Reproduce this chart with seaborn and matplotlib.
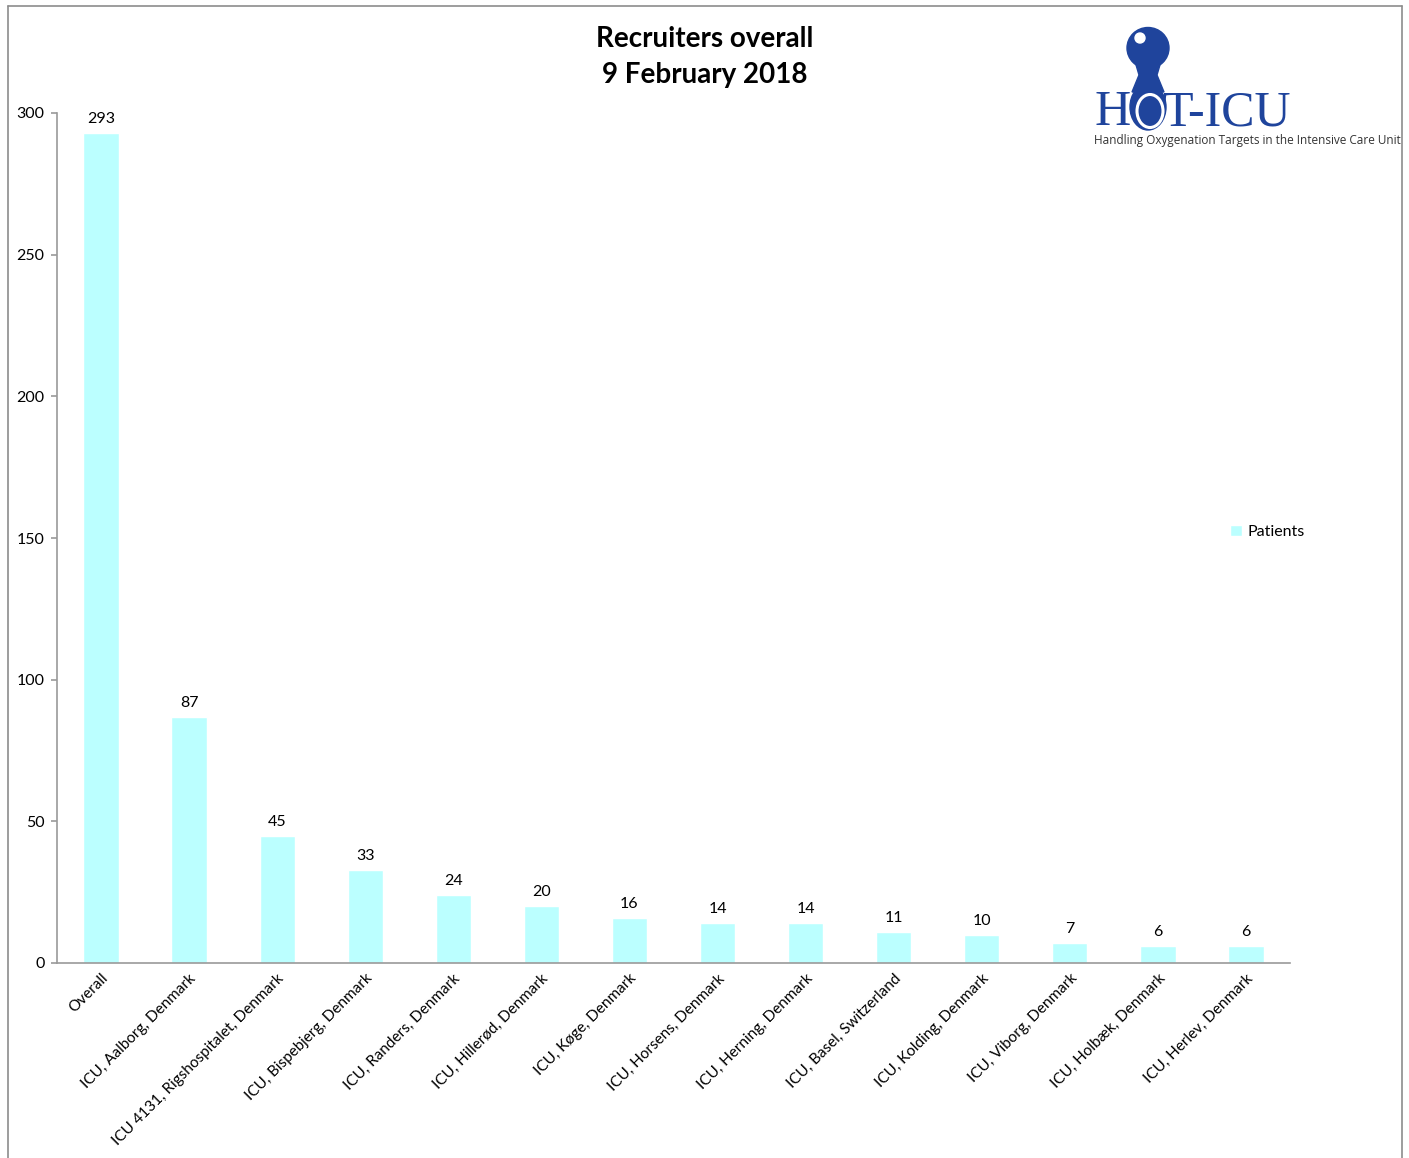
import matplotlib
matplotlib.use("Agg")
import matplotlib.pyplot as plt
import seaborn as sns
import pandas as pd
from matplotlib.patches import Ellipse, Polygon
from matplotlib.lines import Line2D

# chart data
sites = [
    "Overall",
    "ICU, Aalborg, Denmark",
    "ICU 4131, Rigshospitalet, Denmark",
    "ICU, Bispebjerg, Denmark",
    "ICU, Randers, Denmark",
    "ICU, Hillerød, Denmark",
    "ICU, Køge, Denmark",
    "ICU, Horsens, Denmark",
    "ICU, Herning, Denmark",
    "ICU, Basel, Switzerland",
    "ICU, Kolding, Denmark",
    "ICU, Viborg, Denmark",
    "ICU, Holbæk, Denmark",
    "ICU, Herlev, Denmark",
]
patients = [293, 87, 45, 33, 24, 20, 16, 14, 14, 11, 10, 7, 6, 6]
y_ticks = [0, 50, 100, 150, 200, 250, 300]

df = pd.DataFrame({"site": sites, "patients": patients})

sns.set_style("white")
plt.rcParams["font.family"] = ["Lato", "DejaVu Sans"]
plt.rcParams["text.color"] = "black"
plt.rcParams["xtick.labelcolor"] = "black"
plt.rcParams["ytick.labelcolor"] = "black"

W, H = 1409, 1158
fig = plt.figure(figsize=(W / 100, H / 100), dpi=100)
ax = fig.add_axes([57 / W, 1 - 963 / H, (1290 - 57) / W, (963 - 113) / H])

bar_color = "#bbffff"
sns.barplot(data=df, x="site", y="patients", color=bar_color, width=0.4,
            saturation=1, ax=ax)

ax.set_xlim(-0.5, len(sites) - 0.5)
ax.set_ylim(0, 300)
ax.set_yticks(y_ticks)
ax.set_xlabel("")
ax.set_ylabel("")

axis_grey = "#9a9a9a"
for s in ["top", "right"]:
    ax.spines[s].set_visible(False)
for s in ["left", "bottom"]:
    ax.spines[s].set_color(axis_grey)
    ax.spines[s].set_linewidth(1.2)

# x tick marks sit between the categories
ax.set_xticks([i - 0.5 for i in range(len(sites) + 1)], minor=True)
ax.tick_params(axis="x", which="major", length=0, pad=6)
ax.tick_params(axis="x", which="minor", length=4, color=axis_grey, width=1.2,
               direction="out")
ax.tick_params(axis="y", length=4, color=axis_grey, width=1.2, direction="out",
               labelsize=11.5, pad=5, left=True)
ax.set_xticks(range(len(sites)))
ax.set_xticklabels(sites, rotation=45, ha="right", rotation_mode="anchor",
                   fontsize=11)

ax.bar_label(ax.containers[0], labels=[str(v) for v in patients],
             padding=5, fontsize=11.5, color="black")

ax.legend(handles=[ax.containers[0].patches[0]], labels=["Patients"],
          loc="center left", bbox_to_anchor=(1216 / W, 1 - 532 / H),
          bbox_transform=fig.transFigure, frameon=False, fontsize=11.5,
          handlelength=0.7, handleheight=0.7, handletextpad=0.4,
          labelcolor="black")

fig.text(705 / W, 1 - 39 / H, "Recruiters overall", ha="center", va="center",
         fontsize=20, fontweight="bold", color="black")
fig.text(705 / W, 1 - 75 / H, "9 February 2018", ha="center", va="center",
         fontsize=20, fontweight="bold", color="black")

# HOT-ICU logo
logo_blue = "#1f449c"
ft = fig.transFigure


def px(x, y):
    return (x / W, 1 - y / H)


def blob(cx, cy, w, h, **kw):
    fig.add_artist(Ellipse(px(cx, cy), w / W, h / H, transform=ft, **kw))


fig.add_artist(Polygon([px(1134, 58), px(1162, 58), px(1157, 75),
                        px(1164, 92), px(1132, 92), px(1139, 75)],
                       closed=True, transform=ft, color=logo_blue))
blob(1148, 48, 42, 41, color=logo_blue)
blob(1140, 38, 10, 10, color="white")
blob(1148, 107, 36, 46, color=logo_blue)
blob(1150, 111, 26, 33, facecolor="none", edgecolor="white", lw=2.2)

serif = ["Liberation Serif", "DejaVu Serif"]
fig.text(1095 / W, 1 - 125 / H, "H", ha="left", va="baseline",
         fontsize=36, color=logo_blue, family=serif)
fig.text(1291 / W, 1 - 125 / H, "T-ICU", ha="right", va="baseline",
         fontsize=36, color=logo_blue, family=serif)
fig.text(1094 / W, 1 - 140 / H,
         "Handling Oxygenation Targets in the Intensive Care Unit",
         ha="left", va="center", fontsize=8.5, color="#333333",
         family=["Open Sans", "DejaVu Sans"])

# outer frame
frame_col = "#8c8c8c"
fig.add_artist(Line2D([8 / W, 8 / W], [0, 1 - 6 / H], transform=ft,
                      color=frame_col, lw=1.2))
fig.add_artist(Line2D([8 / W, 1402 / W], [1 - 6 / H, 1 - 6 / H], transform=ft,
                      color=frame_col, lw=1.2))
fig.add_artist(Line2D([1402 / W, 1402 / W], [0, 1 - 6 / H], transform=ft,
                      color=frame_col, lw=1.2))

fig.savefig("out.png", dpi=100, facecolor="white")
